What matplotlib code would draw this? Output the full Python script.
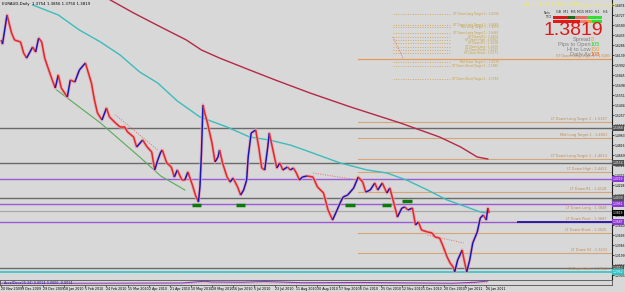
import matplotlib
matplotlib.use("Agg")
import matplotlib.pyplot as plt
import numpy as np
from matplotlib.collections import LineCollection
from matplotlib.patches import Rectangle

# price path (bar index from 20 Nov 2009, price)
bars = [0, 1, 4, 7, 9, 13, 15, 17, 21, 23, 25, 27, 29, 31, 34, 36, 38, 40, 44, 46,
        49, 52, 56, 58, 60, 62, 64, 67, 70, 72, 76, 79, 82, 84, 88, 90, 94, 97, 100, 102,
        104, 106, 107, 110, 113, 115, 117, 120, 122, 124, 127, 129, 131, 132, 133, 134, 135, 137, 140, 142,
        144, 145, 147, 150, 152, 154, 157, 159, 161, 163, 164, 166, 169, 171, 173, 175, 177, 178, 180, 183,
        185, 187, 190, 192, 194, 196, 198, 200, 203, 207, 210, 214, 217, 220, 223, 225, 227, 230, 234, 237,
        240, 242, 245, 248, 250, 253, 256, 258, 261, 263, 266, 268, 270, 273, 275, 277, 279, 283, 286, 288,
        291, 293, 296, 298, 300, 301, 303, 306, 307, 309, 311, 313, 316, 318, 320, 322, 323, 324]
closes = [1.6362, 1.6303, 1.6730, 1.6465, 1.6362, 1.6333, 1.6171, 1.6097, 1.6259, 1.6186,
          1.6391, 1.6333, 1.6097, 1.5965, 1.5774, 1.5656, 1.5848, 1.5656, 1.5524, 1.5774,
          1.5745, 1.5921, 1.6024, 1.5877, 1.5730, 1.5480, 1.5289, 1.5186, 1.5362, 1.5230,
          1.5142, 1.5083, 1.5083, 1.5010, 1.4936, 1.4789, 1.4892, 1.4789, 1.4716, 1.4451,
          1.4598, 1.4716, 1.4745, 1.4554, 1.4495, 1.4348, 1.4451, 1.4304, 1.4304, 1.4422,
          1.4230, 1.4083, 1.3981, 1.4201, 1.4701, 1.5407, 1.5304, 1.5142, 1.4848, 1.4569,
          1.4642, 1.4745, 1.4554, 1.4348, 1.4274, 1.4333, 1.4201, 1.4083, 1.4157, 1.4304,
          1.4642, 1.4995, 1.5039, 1.4789, 1.4480, 1.4451, 1.4789, 1.4995, 1.4789, 1.4480,
          1.4554, 1.4451, 1.4495, 1.4451, 1.4480, 1.4407, 1.4304, 1.4348, 1.4363, 1.4348,
          1.4201, 1.4113, 1.3863, 1.3716, 1.3863, 1.3966, 1.4054, 1.4083, 1.4186, 1.4348,
          1.4274, 1.4127, 1.4157, 1.4260, 1.4157, 1.4260, 1.4113, 1.4186, 1.3936, 1.3760,
          1.3892, 1.3907, 1.3863, 1.3892, 1.3643, 1.3687, 1.3569, 1.3540, 1.3525, 1.3466,
          1.3451, 1.3349, 1.3172, 1.3084, 1.3025, 1.2952, 1.3128, 1.3275, 1.3157, 1.2952,
          1.3128, 1.3378, 1.3540, 1.3746, 1.3790, 1.3716, 1.3892, 1.3819]

ma_fast_bars = [21, 38, 52, 66, 79, 92, 104, 117, 132, 150, 165, 178, 192, 205, 225, 243, 256, 269, 283, 296, 309, 318, 323]
ma_fast = [1.6877, 1.6730, 1.6509, 1.6333, 1.6142, 1.5892, 1.5730, 1.5465, 1.5230, 1.5083, 1.4936, 1.4892,
           1.4818, 1.4716, 1.4554, 1.4451, 1.4407, 1.4304, 1.4157, 1.4010, 1.3907, 1.3834, 1.3819]
ma_slow_bars = [69, 88, 106, 123, 133, 145, 165, 182, 205, 232, 265, 278, 291, 305, 316, 323]
ma_slow = [1.6994, 1.6759, 1.6553, 1.6362, 1.6215, 1.6097, 1.5921, 1.5774, 1.5583, 1.5377, 1.5142,
           1.5039, 1.4936, 1.4789, 1.4642, 1.4613]

trend_bars = [37, 66, 92, 106, 122]
trend_vals = [1.5627, 1.5142, 1.4642, 1.4363, 1.4157]

gray_levels = [1.5068, 1.4554, 1.4039, 1.3010]
purple_levels = [1.4319, 1.3951, 1.3687]
lt_names = ["LT Down Long Target 2", "Mid Long Target 1", "LT Down Long Target 1", "LT Down High",
            "LT Down R1", "LT Down Short", "LT Down S1"]
lt_levels = [1.5157, 1.4921, 1.4613, 1.4422, 1.4128, 1.3525, 1.3231]
long_level = 1.3848
pivot_level = 1.3687
low_level = 1.2952

st_names = ["ST Down Long Target 2", "ST Down Long Target 1", "Mid Long Target 1", "ST Down Long Target 1",
            "ST Down R1", "ST Down High", "ST Down R1", "ST Down Long", "ST Down Pivot", "ST Down Short",
            "Mid Short Target 1", "ST Down Short Target 1", "ST Down Short Target 2"]
st_levels = [1.6744, 1.6583, 1.6553, 1.6465, 1.6406, 1.6362, 1.6318, 1.6259, 1.6215, 1.6171,
             1.6039, 1.5980, 1.5789]
st_main = 1.6083

marker_spans = [(127, 133, 1.3937), (156, 162, 1.3937), (228, 235, 1.3937), (253, 259, 1.3937), (266, 273, 1.3990)]
dotted_lines = [((76, 104), (1.5260, 1.4745)), ((207, 237), (1.4407, 1.4304)),
                ((283, 307), (1.3496, 1.3377)), ((260, 267), (1.6406, 1.6083))]

ind_bars = [0, 60, 120, 135, 140, 160, 175, 200, 240, 280, 300, 315, 323]
ind_vals = [0.35, 0.35, 0.4, 0.75, 0.6, 0.55, 0.7, 0.45, 0.5, 0.4, 0.35, 0.55, 0.8]

date_labels = ["20 Nov 2009", "9 Dec 2009", "29 Dec 2009", "18 Jan 2010", "5 Feb 2010", "24 Feb 2010",
               "15 Mar 2010", "2 Apr 2010", "21 Apr 2010", "10 May 2010", "28 May 2010", "16 Jun 2010",
               "5 Jul 2010", "23 Jul 2010", "11 Aug 2010", "30 Aug 2010", "17 Sep 2010", "6 Oct 2010",
               "25 Oct 2010", "12 Nov 2010", "1 Dec 2010", "20 Dec 2010", "7 Jan 2011", "26 Jan 2011"]
date_pos = [14 * i for i in range(len(date_labels))]

bg = "#d8d8d8"
W, H = 625, 292

fig = plt.figure(figsize=(6.25, 2.92), dpi=100, facecolor=bg)
ax = fig.add_axes([0, (H - 279) / H, 612 / W, 279 / H], facecolor=bg)
axi = fig.add_axes([0, (H - 285) / H, 612 / W, 5 / H], facecolor=bg)

x0, x1 = -0.66, 405.4
ax.set_xlim(x0, x1)
ax.set_ylim(1.695 - 279 * 0.00147, 1.695)

# horizontal levels
for lv in gray_levels:
    ax.axhline(lv, color="#6a6a6a", lw=1.0, zorder=1)
for lv in purple_levels:
    ax.axhline(lv, color="#9a5ad6", lw=1.0, zorder=1)
ax.plot([343, x1], [pivot_level, pivot_level], color="#2a1fa0", lw=1.4, zorder=1)
ax.axhline(long_level, color="#a9a9a9", lw=0.9, zorder=1)
ax.axhline(low_level, color="#3cc8c8", lw=1.3, zorder=1)
for nm, lv in zip(lt_names, lt_levels):
    ax.plot([237, x1], [lv, lv], color="#d6a57a", lw=0.8, zorder=1)
    ax.text(402, lv + 0.0012, f"{nm} : {lv:.4f}", fontsize=2.5, color="#c08850", ha="right", va="bottom")
for nm, lv in [("LT Down Long", long_level), ("LT Down Pivot", pivot_level), ("LT Down Low", low_level)]:
    ax.text(402, lv + 0.0012, f"{nm} : {lv:.4f}", fontsize=2.5, color="#c08850", ha="right", va="bottom")

# short-term target block
for nm, lv in zip(st_names, st_levels):
    ax.plot([260, 298], [lv, lv], color="#d4a860", lw=0.7, ls=(0, (1, 1.5)), zorder=1)
    ax.text(330, lv, f"{nm} : {lv:.4f}", fontsize=2.1, color="#c8a040", ha="right", va="center")
ax.plot([237, x1], [st_main, st_main], color="#e59a5a", lw=0.9, zorder=1)
ax.text(404, st_main + 0.001, f"ST Down Long Target 1 : {st_main:.4f}", fontsize=2.4, color="#d08840",
        ha="right", va="bottom")

for (xa, xb), (ya, yb) in dotted_lines:
    ax.plot([xa, xb], [ya, yb], color="#d87070", lw=0.7, ls=(0, (1, 1.5)), zorder=2)

ax.plot(trend_bars, trend_vals, color="#5aaa5a", lw=0.8, zorder=2)
ax.plot(ma_fast_bars, ma_fast, color="#3cbcbc", lw=1.0, zorder=3)
ax.plot(ma_slow_bars, ma_slow, color="#b42848", lw=1.0, zorder=3)

# price bars drawn as up/down coloured path
pts = np.column_stack([bars, closes])
segs = np.stack([pts[:-1], pts[1:]], axis=1)
cols = ["#1818b8" if b > a else "#e02828" for a, b in zip(closes[:-1], closes[1:])]
ax.plot(bars, closes, color="#e8a8b0", lw=2.4, alpha=0.8, zorder=4, solid_capstyle="butt")
ax.add_collection(LineCollection(segs, colors=cols, linewidths=1.1, zorder=5))

for xa, xb, lv in marker_spans:
    ax.plot([xa, xb], [lv, lv], color="#0a7a0a", lw=2.5, zorder=6, solid_capstyle="butt")

# axes styling
ax.set_xticks([])
ax.yaxis.tick_right()
ax.set_yticks(np.arange(1.2905, 1.695, 0.0147))
ax.yaxis.set_major_formatter(matplotlib.ticker.FormatStrFormatter("%.4f"))
ax.tick_params(axis="y", labelsize=2.2, length=1.2, width=0.5, pad=0.5, colors="black")
for s in ["top", "left", "bottom"]:
    ax.spines[s].set_visible(False)
ax.spines["right"].set_color("#202020")
ax.spines["right"].set_linewidth(0.8)

# level boxes on the price scale
boxes = [(1.3819, "black", "white")] + [(lv, "#8a3ad0", "white") for lv in purple_levels] + \
        [(lv, "#505050", "white") for lv in gray_levels] + [(low_level, "#30c0c0", "white")]
for lv, fc, tc in boxes:
    ax.annotate(f"{lv:.4f}", xy=(1.0, lv), xycoords=("axes fraction", "data"), xytext=(0.6, 0),
                textcoords="offset points", fontsize=2.2, color=tc, va="center", ha="left",
                bbox=dict(boxstyle="square,pad=0.2", fc=fc, ec="none"), annotation_clip=False)

# indicator pane
axi.set_xlim(x0, x1)
axi.set_ylim(0, 1)
axi.plot(ind_bars, ind_vals, color="#8040c0", lw=0.8)
axi.plot(ind_bars, [v * 0.6 for v in ind_vals], color="#e070b0", lw=0.6, ls=(0, (1, 1)))
axi.set_yticks([])
axi.set_xticks(date_pos)
axi.set_xticklabels(date_labels, ha="left")
axi.tick_params(axis="x", labelsize=2.3, length=1.2, width=0.4, pad=0.3)
for s in axi.spines.values():
    s.set_color("#505050")
    s.set_linewidth(0.6)
axi.text(2, 0.45, "AccelDecel(5,34) 0.0014 0.0000 -0.0014", fontsize=2.4, color="#202080", va="center")


def px(x, y):
    return x / W, 1 - y / H


fig.text(*px(2, 4), "EURAUD,Daily  1.3754 1.3856 1.3750 1.3819", fontsize=2.8, color="black", va="center")
fig.text(*px(524, 5), "Alerts", fontsize=3.4, color="#f2ea60", va="center")
fig.text(*px(540, 5), "Email Alerts Off", fontsize=3.4, color="#f2ea60", va="center")
fig.text(*px(577, 5), "Popup Alerts Off", fontsize=3.4, color="#f2ea60", va="center")
fig.text(*px(556, 12), "GB  M1  M5 M15 M30  H1   H4", fontsize=2.4, color="#303030", va="center")
fig.text(*px(551, 15), "Nets\nTTCI", fontsize=2.2, color="#303030", va="center", ha="right", linespacing=0.9)

row1 = [(553, 568, "#e01818"), (568, 575, "#1a6a1a"), (575, 587, "#e86a5a"), (587, 602, "#30e030")]
row2 = [(553, 580, "#e01818"), (580, 587, "#f08070"), (587, 592, "#f0a030"), (592, 602, "#30e030")]
for (xa, xb, c) in row1:
    fig.add_artist(Rectangle(px(xa, 19), (xb - xa) / W, 3 / H, transform=fig.transFigure, fc=c, ec="none"))
for (xa, xb, c) in row2:
    fig.add_artist(Rectangle(px(xa, 23), (xb - xa) / W, 3.5 / H, transform=fig.transFigure, fc=c, ec="none"))

fig.text(*px(603, 30.5), "1.3819", fontsize=14, family="Liberation Sans", color="#e01818", ha="right", va="center")
info = [("Spread", "8", "#f0a030", 39.5), ("Pips to Open", "105", "#30d030", 44.5),
        ("Hi to Low", "150", "#f0a030", 49.5), ("Daily Av", "108", "#e86020", 54.5)]
for lab, val, c, yy in info:
    fig.text(*px(591, yy), lab, fontsize=4.1, family="Liberation Sans", color="#808080", ha="right", va="center")
    fig.text(*px(591, yy), val, fontsize=4.1, family="Liberation Sans", color=c, ha="left", va="center")

fig.savefig("out.png", dpi=100, facecolor=bg)
